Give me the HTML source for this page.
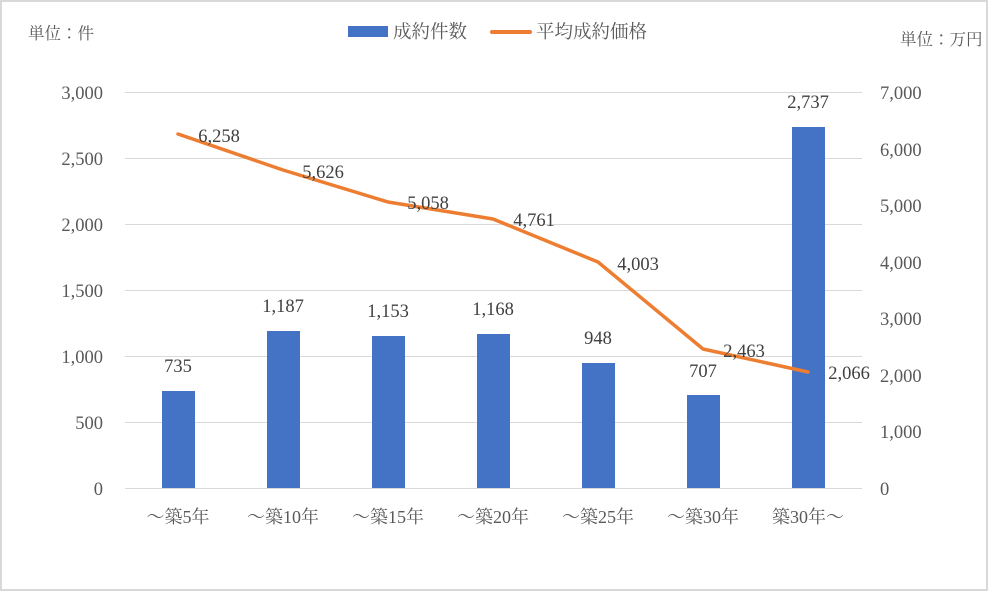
<!DOCTYPE html>
<html><head><meta charset="utf-8"><style>
html,body{margin:0;padding:0;background:#fff}
svg{display:block}
text{font-family:"Liberation Serif","Noto Serif CJK JP",serif;fill:#595959}
</style></head><body>
<svg width="989" height="592" viewBox="0 0 989 592" xmlns="http://www.w3.org/2000/svg">
<rect x="1" y="1" width="986" height="589" fill="#fff" stroke="#d9d9d9" stroke-width="2"/>
<g stroke="#d9d9d9" stroke-width="1">
<line x1="125" x2="862" y1="92.5" y2="92.5"/>
<line x1="125" x2="862" y1="158.5" y2="158.5"/>
<line x1="125" x2="862" y1="224.5" y2="224.5"/>
<line x1="125" x2="862" y1="290.5" y2="290.5"/>
<line x1="125" x2="862" y1="356.5" y2="356.5"/>
<line x1="125" x2="862" y1="422.5" y2="422.5"/>
<line x1="125" x2="862" y1="488.5" y2="488.5"/>
</g>
<g font-size="18.5" text-anchor="end">
<text x="103" y="99">3,000</text>
<text x="103" y="165">2,500</text>
<text x="103" y="231">2,000</text>
<text x="103" y="297">1,500</text>
<text x="103" y="363">1,000</text>
<text x="103" y="429">500</text>
<text x="103" y="495">0</text>
</g>
<g font-size="18.5" text-anchor="start">
<text x="880" y="99">7,000</text>
<text x="880" y="156">6,000</text>
<text x="880" y="212">5,000</text>
<text x="880" y="269">4,000</text>
<text x="880" y="325">3,000</text>
<text x="880" y="382">2,000</text>
<text x="880" y="438">1,000</text>
<text x="880" y="495">0</text>
</g>
<text x="28" y="39" font-size="16.5">単位：件</text>
<text x="900" y="45" font-size="16.5">単位：万円</text>
<rect x="348" y="26" width="40" height="11" fill="#4472c4"/>
<text x="393" y="38" font-size="18.5">成約件数</text>
<line x1="492" x2="530" y1="32" y2="32" stroke="#ed7d31" stroke-width="4" stroke-linecap="round"/>
<text x="536" y="38" font-size="18.5">平均成約価格</text>
<g fill="#4472c4">
<rect x="162" y="391" width="33" height="97"/>
<rect x="267" y="331" width="33" height="157"/>
<rect x="372" y="336" width="33" height="152"/>
<rect x="477" y="334" width="33" height="154"/>
<rect x="582" y="363" width="33" height="125"/>
<rect x="687" y="395" width="33" height="93"/>
<rect x="792" y="127" width="33" height="361"/>
</g>
<g font-size="18.5" text-anchor="middle">
<text x="178" y="372" style="fill:#404040">735</text>
<text x="283" y="312" style="fill:#404040">1,187</text>
<text x="388" y="317" style="fill:#404040">1,153</text>
<text x="493" y="315" style="fill:#404040">1,168</text>
<text x="598" y="344" style="fill:#404040">948</text>
<text x="703" y="377" style="fill:#404040">707</text>
<text x="808" y="108" style="fill:#404040">2,737</text>
</g>
<polyline points="178,134 283,170 388,202 493,219 598,262 703,349 808,372" fill="none" stroke="#ed7d31" stroke-width="3.5" stroke-linejoin="round" stroke-linecap="round"/>
<g font-size="18.5" text-anchor="middle">
<text x="219" y="142" style="fill:#404040">6,258</text>
<text x="323" y="178" style="fill:#404040">5,626</text>
<text x="428" y="209" style="fill:#404040">5,058</text>
<text x="534" y="226" style="fill:#404040">4,761</text>
<text x="638" y="270" style="fill:#404040">4,003</text>
<text x="744" y="357" style="fill:#404040">2,463</text>
<text x="849" y="379" style="fill:#404040">2,066</text>
</g>
<g font-size="18" text-anchor="middle">
<text x="178" y="523">～築5年</text>
<text x="283" y="523">～築10年</text>
<text x="388" y="523">～築15年</text>
<text x="493" y="523">～築20年</text>
<text x="598" y="523">～築25年</text>
<text x="703" y="523">～築30年</text>
<text x="808" y="523">築30年～</text>
</g>
</svg>
</body></html>
